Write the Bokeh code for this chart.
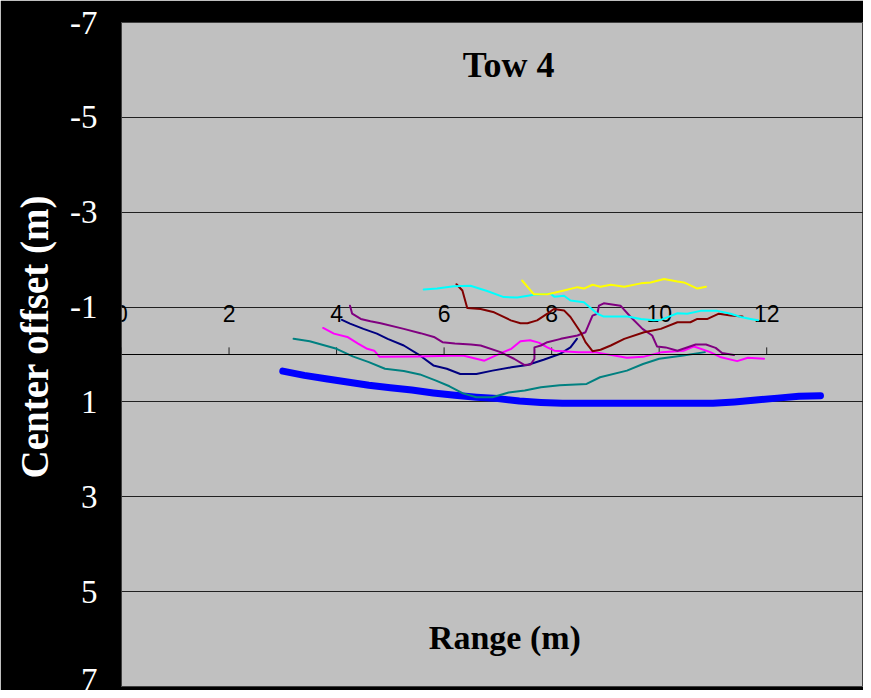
import math
from bokeh.plotting import figure
from bokeh.models import Range1d, FixedTicker, Span, Label, ColumnDataSource, Title
from bokeh.core.properties import value
from bokeh.embed import file_html
from bokeh.resources import INLINE

# ---- data (range in m, center offset in m) ----
blue_x = [3.0, 3.4, 3.8, 4.2, 4.6, 5.0, 5.4, 5.8, 6.2, 6.6, 7.0, 7.4, 7.8, 8.2, 8.6, 9.0, 9.4, 9.8, 10.2, 10.6, 11.0, 11.4, 11.8, 12.2, 12.6, 13.0]
blue_y = [0.35, 0.44, 0.51, 0.58, 0.65, 0.70, 0.75, 0.81, 0.86, 0.90, 0.93, 0.98, 1.01, 1.03, 1.03, 1.03, 1.03, 1.03, 1.03, 1.03, 1.03, 1.00, 0.96, 0.92, 0.88, 0.87]

teal_x = [3.2, 3.5, 3.75, 4.0, 4.3, 4.6, 4.9, 5.25, 5.55, 5.85, 6.1, 6.35, 6.6, 6.9, 7.2, 7.5, 7.8, 8.15, 8.65, 8.9, 9.4, 9.7, 10.0, 10.45, 10.85]
teal_y = [-0.33, -0.28, -0.2, -0.12, 0.04, 0.16, 0.3, 0.35, 0.42, 0.55, 0.67, 0.82, 0.9, 0.9, 0.8, 0.76, 0.69, 0.65, 0.62, 0.48, 0.34, 0.2, 0.09, 0.02, -0.05]

navy_x = [4.1, 4.25, 4.5, 4.75, 4.95, 5.25, 5.55, 5.8, 6.05, 6.3, 6.6, 6.9, 7.25, 7.55, 7.85, 8.15, 8.35, 8.47]
navy_y = [-0.73, -0.65, -0.54, -0.44, -0.33, -0.19, 0.02, 0.23, 0.3, 0.41, 0.41, 0.34, 0.27, 0.22, 0.11, -0.01, -0.15, -0.33]

magenta_x = [3.75, 3.95, 4.2, 4.4, 4.57, 4.7, 4.8, 5.5, 6.35, 6.75, 7.1, 7.25, 7.42, 7.6, 7.76, 7.92, 8.05, 8.5, 8.8, 9.4, 9.7, 10.05, 10.45, 10.65, 10.95, 11.15, 11.45, 11.65, 11.95]
magenta_y = [-0.56, -0.44, -0.37, -0.23, -0.12, -0.08, 0.05, 0.04, 0.02, 0.13, -0.05, -0.12, -0.28, -0.3, -0.25, -0.15, -0.08, -0.05, -0.05, 0.07, 0.05, -0.05, -0.08, -0.17, -0.05, 0.06, 0.14, 0.07, 0.09]

purple_x = [4.25, 4.29, 4.45, 4.63, 4.82, 5.25, 5.56, 5.81, 5.97, 6.2, 6.5, 6.68, 7.05, 7.3, 7.49, 7.61, 7.68, 7.68, 7.8, 7.92, 8.17, 8.48, 8.63, 8.76, 8.85, 8.88, 8.97, 9.28, 9.47, 9.69, 9.87, 9.96, 10.12, 10.34, 10.68, 10.87, 11.05, 11.17, 11.39]
purple_y = [-1.03, -0.86, -0.75, -0.7, -0.66, -0.54, -0.45, -0.37, -0.26, -0.23, -0.21, -0.19, -0.05, 0.09, 0.22, 0.21, 0.09, -0.15, -0.19, -0.26, -0.33, -0.4, -0.47, -0.82, -0.86, -1.03, -1.08, -1.03, -0.79, -0.54, -0.4, -0.17, -0.15, -0.08, -0.21, -0.21, -0.14, -0.03, 0.01]

maroon_x = [6.23, 6.34, 6.43, 6.68, 6.93, 7.24, 7.42, 7.55, 7.73, 7.92, 8.04, 8.23, 8.35, 8.54, 8.63, 8.76, 8.91, 9.1, 9.35, 9.72, 10.03, 10.34, 10.58, 10.71, 10.9, 11.11, 11.33, 11.55]
maroon_y = [-1.48, -1.35, -0.98, -0.96, -0.89, -0.72, -0.66, -0.66, -0.72, -0.86, -0.96, -0.93, -0.79, -0.47, -0.26, -0.07, -0.1, -0.19, -0.33, -0.47, -0.54, -0.68, -0.68, -0.75, -0.75, -0.86, -0.82, -0.8]

cyan_x = [5.62, 5.87, 6.18, 6.49, 6.8, 7.11, 7.36, 7.67, 7.98, 8.05, 8.23, 8.35, 8.6, 8.85, 8.97, 9.41, 9.66, 9.9, 10.03, 10.34, 10.52, 10.77, 11.08, 11.33, 11.52, 11.7, 11.84]
cyan_y = [-1.37, -1.39, -1.44, -1.45, -1.34, -1.21, -1.2, -1.26, -1.28, -1.22, -1.24, -1.14, -1.1, -0.86, -0.8, -0.8, -0.75, -0.72, -0.73, -0.87, -0.86, -0.92, -0.92, -0.86, -0.79, -0.75, -0.72]

yellow_x = [7.45, 7.58, 7.67, 7.92, 8.05, 8.23, 8.48, 8.6, 8.76, 8.91, 9.1, 9.35, 9.66, 9.84, 10.09, 10.34, 10.46, 10.71, 10.87]
yellow_y = [-1.56, -1.39, -1.27, -1.27, -1.3, -1.35, -1.42, -1.39, -1.47, -1.43, -1.47, -1.43, -1.5, -1.52, -1.59, -1.54, -1.52, -1.39, -1.43]

x_ticks = [0, 2, 4, 6, 8, 10, 12, 14]
x_tick_labels = ["0", "2", "4", "6", "8", "10", "12", "14"]
y_ticks = [-7, -5, -3, -1, 1, 3, 5, 7]
y_tick_labels = ["-7", "-5", "-3", "-1", "1", "3", "5", "7"]

title_text = "Tow 4"
x_title = "Range (m)"
y_title = "Center offset (m)"

# ---- figure ----
p = figure(width=863, height=690, output_backend="svg", toolbar_location=None,
           x_range=Range1d(0, 13.8), y_range=Range1d(7, -7),
           x_axis_location=None,
           min_border_left=121, min_border_right=0, min_border_top=22, min_border_bottom=4)
p.border_fill_color = "black"
p.background_fill_color = "#C0C0C0"
p.outline_line_color = "#404040"
p.outline_line_width = 1

p.xgrid.visible = False
p.ygrid.ticker = FixedTicker(ticks=y_ticks)
p.ygrid.grid_line_color = "#202020"
p.ygrid.grid_line_width = 1

ya = p.yaxis[0]
ya.ticker = FixedTicker(ticks=y_ticks)
ya.major_label_overrides = {t: s for t, s in zip(y_ticks, y_tick_labels)}
ya.axis_line_color = None
ya.major_tick_line_color = None
ya.minor_tick_line_color = None
ya.major_tick_out = 0
ya.major_tick_in = 0
ya.major_label_standoff = 24
ya.major_label_text_color = "white"
ya.major_label_text_font = "Liberation Serif"
ya.major_label_text_font_size = "33px"

# y-axis title (placed as a side title so it can sit above the frame centre)
p.add_layout(Title(text=y_title, align="left", offset=208, vertical_align="middle",
                   text_font="Liberation Serif", text_font_style="bold",
                   text_font_size="39px", text_color="white", standoff=22), "left")

# x axis drawn at y = 0
p.add_layout(Span(location=0, dimension="width", line_color="black", line_width=1))
tick_src = ColumnDataSource(dict(x=x_ticks, y=[0] * len(x_ticks), y1=[-0.15] * len(x_ticks), t=x_tick_labels))
p.segment(x0="x", y0="y", x1="x", y1="y1", source=tick_src, line_color="#202020", line_width=1)
p.text(x="x", y="y", text="t", source=tick_src, text_align="center", text_baseline="middle",
       y_offset=-41, text_font=value("Liberation Sans"), text_font_size="23px", text_color="black")

# series
series = [
    (blue_x, blue_y, "#0000FF", 7),
    (teal_x, teal_y, "#008080", 2),
    (navy_x, navy_y, "#000080", 2),
    (magenta_x, magenta_y, "#FF00FF", 2),
    (purple_x, purple_y, "#800080", 2),
    (maroon_x, maroon_y, "#800000", 2),
    (cyan_x, cyan_y, "#00FFFF", 2),
    (yellow_x, yellow_y, "#FFFF00", 2),
]
for xs, ys, c, w in series:
    p.line(xs, ys, line_color=c, line_width=w, line_cap="round", line_join="round")

# titles inside the plot area
p.add_layout(Label(x=7.2, y=-6.1, text=title_text, text_align="center", text_baseline="middle",
                   text_font="Liberation Serif", text_font_style="bold", text_font_size="36px",
                   text_color="black"))
p.add_layout(Label(x=7.13, y=5.97, text=x_title, text_align="center", text_baseline="middle",
                   text_font="Liberation Serif", text_font_style="bold", text_font_size="34px",
                   text_color="black"))

open("out.html", "w").write(file_html(p, INLINE))
